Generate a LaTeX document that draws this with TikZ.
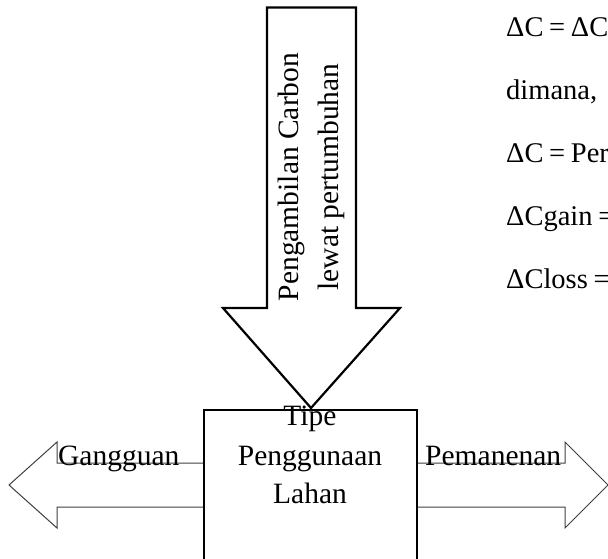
\documentclass[tikz,border=0pt]{standalone}
\usepackage{fontspec}
\setmainfont{Liberation Serif}
\newcommand{\eqsp}{\hspace{0.2em}}
\begin{document}
\begin{tikzpicture}[x=1pt,y=-1pt,
  thickline/.style={draw=black,line width=2.2pt,line join=miter},
  thinline/.style={draw=black!75,line width=1pt,line join=miter},
  lbl/.style={inner sep=0pt,font=\fontsize{29.5}{36}\selectfont,text=black},
  eqlbl/.style={lbl,anchor=base west,font=\fontsize{28.5}{34}\selectfont},
  vlbl/.style={lbl,rotate=90,anchor=base}]
\useasboundingbox (0,0) rectangle (608,558);
\fill[white] (0,0) rectangle (608,558);
% horizontal block arrows
\draw[thinline] (204,463) -- (57,463) -- (57,442) -- (9,485) -- (57,528) -- (57,507) -- (204,507);
\draw[thinline] (417,463) -- (565,463) -- (565,442) -- (608,485) -- (565,528) -- (565,507) -- (417,507);
% down block arrow
\draw[thickline] (267,7.5) -- (356,7.5) -- (356,308) -- (400,308) -- (311,408) -- (223,308) -- (267,308) -- cycle;
% land-use box
\draw[thickline] (204,575) -- (204,410) -- (417,410) -- (417,575);
% texts
\node[vlbl] (v1) at (298,177) {Pengambilan Carbon};
\node[vlbl] (v2) at (338,177) {lewat pertumbuhan};
\node[lbl,anchor=base] (tipe) at (310,425) {Tipe};
\node[lbl,anchor=base] (pengg) at (310,465) {Penggunaan};
\node[lbl,anchor=base] (lahan) at (310,503) {Lahan};
\node[lbl,anchor=base west] (gang) at (58,465) {Gangguan};
\node[lbl,anchor=base west] (pem) at (425,465) {Pemanenan};
\node[eqlbl] (e1) at (506,36) {ΔC\eqsp=\eqsp ΔCg};
\node[eqlbl] (e2) at (506,99) {dimana,};
\node[eqlbl] (e3) at (506,162) {ΔC\eqsp=\eqsp Per};
\node[eqlbl] (e4) at (506,225) {ΔCgain\eqsp=};
\node[eqlbl] (e5) at (506,288) {ΔCloss\eqsp=};
\end{tikzpicture}
\end{document}
